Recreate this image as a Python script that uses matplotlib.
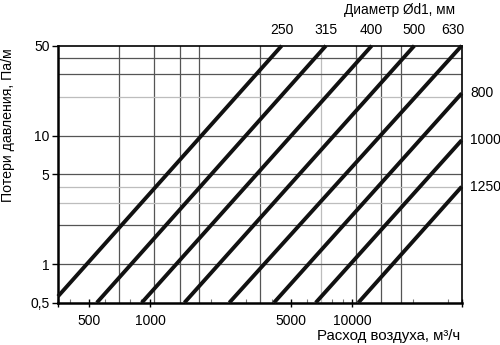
import numpy as np
import matplotlib
matplotlib.use("Agg")
import matplotlib.pyplot as plt
from matplotlib.ticker import FixedLocator, NullFormatter

plt.rcParams['font.family'] = ['Liberation Sans', 'DejaVu Sans']
plt.rcParams['font.size'] = 10

# диаметры воздуховодов, мм
diameters = ["250", "315", "400", "500", "630", "800", "1000", "1250"]
# начало линии (расход м3/ч, потери Па/м)
q_start = [350, 545, 910, 1480, 2470, 4110, 6620, 10760]
dp_start = [0.56, 0.5, 0.5, 0.5, 0.5, 0.5, 0.5, 0.5]
# конец линии
q_end = [4490, 7440, 12540, 20390, 35000, 35000, 35000, 35000]
dp_end = [50, 50, 50, 50, 50, 21.3, 9.2, 4.0]

# сетка
flow_grid = [700, 1050, 1400, 1750, 3500, 7000, 10500, 14000, 17500]
flow_grid_light = [7000]
dp_grid = [40, 30, 20, 10, 5, 4, 3, 2, 1]
dp_grid_light = [20, 4, 3]

x_ticks = [350, 500, 1000, 5000, 10000, 35000]
x_labels = ["", "500", "1000", "5000", "10000", ""]
y_ticks = [0.5, 1, 5, 10, 50]
y_labels = ["0,5", "1", "5", "10", "50"]

fig = plt.figure(figsize=(5, 3.45), dpi=100)
ax = fig.add_axes([0.116, 0.1226, 0.8074, 0.7449])
ax.set_xscale("log")
ax.set_yscale("log")
ax.set_xlim(350, 35000)
ax.set_ylim(0.5, 50)

for g in flow_grid:
    c = "#bdbdbd" if g in flow_grid_light else "#555555"
    ax.axvline(g, color=c, lw=0.9, zorder=1)
for g in dp_grid:
    c = "#bdbdbd" if g in dp_grid_light else "#555555"
    ax.axhline(g, color=c, lw=0.9, zorder=1)

for i in range(len(diameters)):
    ax.plot([q_start[i], q_end[i]], [dp_start[i], dp_end[i]],
            color="#111111", lw=2.8, solid_capstyle="butt", zorder=3, clip_on=False)

# подписи диаметров
for i in range(len(diameters)):
    if dp_end[i] >= 50:
        if q_end[i] >= 35000:
            ax.annotate(diameters[i], (q_end[i], 50), xytext=(-6, 6),
                        textcoords="offset points", ha="center", va="bottom")
        else:
            ax.annotate(diameters[i], (q_end[i], 50), xytext=(0, 6),
                        textcoords="offset points", ha="center", va="bottom")
    else:
        ax.annotate(diameters[i], (35000, dp_end[i]), xytext=(6, 0),
                    textcoords="offset points", ha="left", va="center")

ax.xaxis.set_major_locator(FixedLocator(x_ticks))
ax.set_xticklabels(x_labels)
ax.xaxis.set_minor_locator(FixedLocator([400, 600, 800, 900, 2000, 3000, 4000,
                                         6000, 8000, 9000, 20000, 30000]))
ax.xaxis.set_minor_formatter(NullFormatter())
ax.yaxis.set_major_locator(FixedLocator(y_ticks))
ax.set_yticklabels(y_labels)
ax.yaxis.set_minor_locator(FixedLocator([]))

ax.tick_params(axis="x", which="major", direction="inout", length=6, width=1, pad=5)
ax.tick_params(axis="x", which="minor", direction="in", length=3, width=0.8, color="#777777")
ax.tick_params(axis="y", which="major", direction="out", length=4, width=1, pad=2)

ax.spines["left"].set_linewidth(1.8)
ax.spines["bottom"].set_linewidth(1.8)
ax.spines["top"].set_linewidth(1.2)
ax.spines["right"].set_linewidth(1.2)

fig.text(0.8, 0.971, "Диаметр Ød1, мм", ha="center", va="center", fontsize=9.8)
fig.text(0.921, 0.026, "Расход воздуха, м³/ч", ha="right", va="center", fontsize=10.8)
fig.text(0.017, 0.637, "Потери давления, Па/м", rotation=90, ha="center", va="center",
         fontsize=10.2)

fig.savefig("out.png", dpi=100)
